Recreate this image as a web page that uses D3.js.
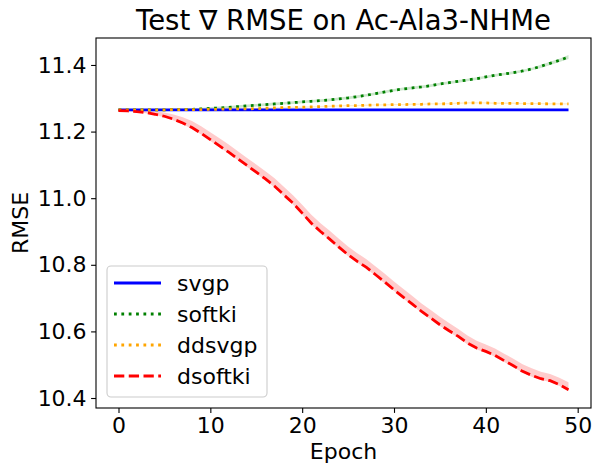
<!DOCTYPE html>
<html>
<head>
<meta charset="utf-8">
<script src="https://cdn.jsdelivr.net/npm/d3@7"></script>
<style>
  html, body { margin: 0; padding: 0; background: #fff; }
  svg { display: block; font-family: "DejaVu Sans", sans-serif; }
</style>
</head>
<body>
<svg id="chart" width="601" height="473"></svg>
<script>
const titleText = "Test \u2207 RMSE on Ac-Ala3-NHMe";
const xLabel = "Epoch";
const yLabel = "RMSE";
const xTicks = [0, 10, 20, 30, 40, 50];
const yTicks = [10.4, 10.6, 10.8, 11.0, 11.2, 11.4];
const seriesNames = ["svgp", "softki", "ddsvgp", "dsoftki"];

const epochs = [0,1,2,3,4,5,6,7,8,9,10,11,12,13,14,15,16,17,18,19,20,21,22,23,24,25,26,27,28,29,30,31,32,33,34,35,36,37,38,39,40,41,42,43,44,45,46,47,48,49];

const svgp = [11.265,11.265,11.265,11.265,11.265,11.265,11.265,11.265,11.265,11.265,
  11.265,11.265,11.265,11.265,11.265,11.265,11.265,11.265,11.265,11.265,
  11.265,11.265,11.265,11.265,11.265,11.265,11.265,11.265,11.265,11.265,
  11.265,11.265,11.265,11.265,11.265,11.265,11.265,11.265,11.265,11.265,
  11.265,11.265,11.265,11.265,11.265,11.265,11.265,11.265,11.265,11.265];

const softki = [11.265,11.265,11.265,11.265,11.265,11.265,11.266,11.266,11.267,11.268,
  11.270,11.271,11.273,11.275,11.277,11.279,11.281,11.283,11.285,11.287,
  11.289,11.291,11.293,11.295,11.298,11.301,11.305,11.309,11.314,11.319,
  11.324,11.328,11.331,11.334,11.338,11.343,11.347,11.351,11.355,11.359,
  11.364,11.369,11.373,11.377,11.382,11.388,11.396,11.405,11.414,11.424];
const softkiLo = [11.264,11.264,11.264,11.264,11.264,11.263,11.263,11.263,11.264,11.265,
  11.266,11.267,11.269,11.271,11.273,11.275,11.277,11.279,11.281,11.283,
  11.285,11.287,11.289,11.291,11.294,11.297,11.301,11.305,11.310,11.315,
  11.320,11.324,11.327,11.330,11.334,11.339,11.343,11.347,11.351,11.355,
  11.360,11.365,11.369,11.373,11.378,11.384,11.391,11.400,11.409,11.418];
const softkiHi = [11.266,11.266,11.266,11.266,11.266,11.267,11.269,11.269,11.270,11.271,
  11.274,11.275,11.277,11.279,11.281,11.283,11.285,11.287,11.289,11.291,
  11.293,11.295,11.297,11.299,11.302,11.305,11.309,11.313,11.318,11.323,
  11.328,11.332,11.335,11.338,11.342,11.347,11.351,11.355,11.359,11.363,
  11.368,11.373,11.377,11.381,11.386,11.392,11.401,11.410,11.419,11.430];

const ddsvgp = [11.265,11.265,11.265,11.265,11.265,11.265,11.266,11.266,11.266,11.266,
  11.267,11.267,11.268,11.268,11.268,11.269,11.270,11.271,11.272,11.273,
  11.273,11.274,11.275,11.276,11.277,11.278,11.278,11.279,11.280,11.280,
  11.281,11.281,11.282,11.282,11.283,11.283,11.284,11.285,11.286,11.286,
  11.286,11.285,11.285,11.285,11.284,11.284,11.284,11.283,11.283,11.283];
const ddsvgpLo = [11.264,11.264,11.264,11.264,11.264,11.264,11.265,11.265,11.265,11.265,
  11.266,11.266,11.266,11.266,11.266,11.267,11.268,11.269,11.270,11.271,
  11.271,11.272,11.273,11.274,11.275,11.276,11.276,11.277,11.278,11.278,
  11.279,11.279,11.280,11.280,11.281,11.281,11.282,11.283,11.284,11.284,
  11.284,11.283,11.283,11.283,11.282,11.282,11.282,11.281,11.281,11.281];
const ddsvgpHi = [11.266,11.266,11.266,11.266,11.266,11.266,11.267,11.267,11.267,11.267,
  11.268,11.268,11.270,11.270,11.270,11.271,11.272,11.273,11.274,11.275,
  11.275,11.276,11.277,11.278,11.279,11.280,11.280,11.281,11.282,11.282,
  11.283,11.283,11.284,11.284,11.285,11.285,11.286,11.287,11.288,11.288,
  11.288,11.287,11.287,11.287,11.286,11.286,11.286,11.285,11.285,11.285];

const dsoftki = [11.263,11.262,11.260,11.257,11.252,11.246,11.237,11.226,11.212,11.195,
  11.176,11.157,11.138,11.118,11.098,11.078,11.058,11.036,11.010,10.985,
  10.955,10.925,10.900,10.877,10.853,10.830,10.810,10.792,10.770,10.748,
  10.725,10.703,10.682,10.660,10.640,10.620,10.602,10.585,10.565,10.550,
  10.540,10.528,10.512,10.497,10.480,10.468,10.458,10.452,10.440,10.425];
const dsoftkiLo = [11.262,11.261,11.258,11.255,11.249,11.243,11.233,11.222,11.208,11.191,
  11.172,11.153,11.134,11.114,11.094,11.074,11.054,11.032,11.006,10.981,
  10.951,10.921,10.896,10.873,10.849,10.826,10.806,10.788,10.766,10.744,
  10.721,10.699,10.678,10.656,10.636,10.616,10.598,10.581,10.561,10.546,
  10.536,10.524,10.508,10.493,10.476,10.464,10.454,10.448,10.436,10.421];
const dsoftkiHi = [11.264,11.264,11.264,11.263,11.260,11.257,11.251,11.243,11.232,11.216,
  11.198,11.180,11.161,11.141,11.121,11.101,11.081,11.060,11.034,11.009,
  10.980,10.950,10.925,10.902,10.878,10.855,10.835,10.817,10.795,10.773,
  10.750,10.728,10.706,10.684,10.664,10.644,10.625,10.607,10.588,10.572,
  10.561,10.549,10.533,10.518,10.501,10.489,10.479,10.472,10.461,10.447];

const svg = d3.select("#chart");
const mLeft = 96, mRight = 591, mTop = 38, mBottom = 408;

const x = d3.scaleLinear().domain([-2.45, 51.45]).range([mLeft, mRight]);
const y = d3.scaleLinear().domain([10.37, 11.481]).range([mBottom, mTop]);

const series = [
  { name: seriesNames[0], vals: svgp, lo: null, hi: null, color: "#0000ff", band: "#0000ff", dash: null },
  { name: seriesNames[1], vals: softki, lo: softkiLo, hi: softkiHi, color: "#008000", band: "#008000", dash: "2.78,4.58" },
  { name: seriesNames[2], vals: ddsvgp, lo: ddsvgpLo, hi: ddsvgpHi, color: "#ffa500", band: "#ffa500", dash: "2.78,4.58" },
  { name: seriesNames[3], vals: dsoftki, lo: dsoftkiLo, hi: dsoftkiHi, color: "#ff0000", band: "#ff0000", dash: "10.3,4.45" }
];

svg.append("defs").append("clipPath").attr("id", "clip")
  .append("rect").attr("x", mLeft).attr("y", mTop).attr("width", mRight - mLeft).attr("height", mBottom - mTop);

const plot = svg.append("g").attr("clip-path", "url(#clip)");

const area = d3.area()
  .x((d, i) => x(epochs[i]))
  .y0(d => y(d[0]))
  .y1(d => y(d[1]));

series.forEach(s => {
  if (s.lo) {
    plot.append("path")
      .datum(s.lo.map((v, i) => [v, s.hi[i]]))
      .attr("d", area)
      .attr("fill", s.band)
      .attr("fill-opacity", 0.2)
      .attr("stroke", "none");
  }
});

const line = d3.line().x((d, i) => x(epochs[i])).y(d => y(d));

series.forEach(s => {
  plot.append("path")
    .datum(s.vals)
    .attr("d", line)
    .attr("fill", "none")
    .attr("stroke", s.color)
    .attr("stroke-width", 2.78)
    .attr("stroke-dasharray", s.dash)
    .attr("stroke-linecap", "butt");
});

// axes
const xAxis = d3.axisBottom(x).tickValues(xTicks).tickSize(4.9).tickPadding(4.5).tickFormat(d3.format("d"));
const yAxis = d3.axisLeft(y).tickValues(yTicks).tickSize(4.9).tickPadding(4.5).tickFormat(d3.format(".1f"));

const gx = svg.append("g").attr("transform", `translate(0,${mBottom})`).call(xAxis);
const gy = svg.append("g").attr("transform", `translate(${mLeft},0)`).call(yAxis);
[gx, gy].forEach(g => {
  g.select(".domain").remove();
  g.selectAll(".tick line").attr("stroke", "#000").attr("stroke-width", 1.1);
  g.selectAll(".tick text").attr("fill", "#000").attr("font-size", 22).attr("font-family", "DejaVu Sans");
});

// spines
svg.append("rect").attr("x", mLeft).attr("y", mTop).attr("width", mRight - mLeft).attr("height", mBottom - mTop)
  .attr("fill", "none").attr("stroke", "#000").attr("stroke-width", 1.1);

// title and labels
svg.append("text").attr("x", (mLeft + mRight) / 2).attr("y", 30).attr("text-anchor", "middle")
  .attr("font-size", 27.5).attr("fill", "#000").text(titleText);
svg.append("text").attr("x", (mLeft + mRight) / 2).attr("y", 459).attr("text-anchor", "middle")
  .attr("font-size", 22).attr("fill", "#000").text(xLabel);
svg.append("text").attr("transform", `translate(28,${(mTop + mBottom) / 2}) rotate(-90)`).attr("text-anchor", "middle")
  .attr("font-size", 22).attr("fill", "#000").text(yLabel);

// legend
const lg = svg.append("g");
lg.append("rect").attr("x", 107).attr("y", 266).attr("width", 160).attr("height", 131)
  .attr("rx", 4).attr("ry", 4)
  .attr("fill", "#fff").attr("fill-opacity", 0.8)
  .attr("stroke", "#cccccc").attr("stroke-width", 1.1);
const legendY = d3.scalePoint().domain(seriesNames).range([283, 376]);
series.forEach(s => {
  const yy = legendY(s.name);
  lg.append("line").attr("x1", 114).attr("x2", 161).attr("y1", yy).attr("y2", yy)
    .attr("stroke", s.color).attr("stroke-width", 2.78)
    .attr("stroke-dasharray", s.dash);
  lg.append("text").attr("x", 177).attr("y", yy).attr("dy", "0.35em")
    .attr("font-size", 22).attr("fill", "#000").text(s.name);
});
</script>
</body>
</html>
